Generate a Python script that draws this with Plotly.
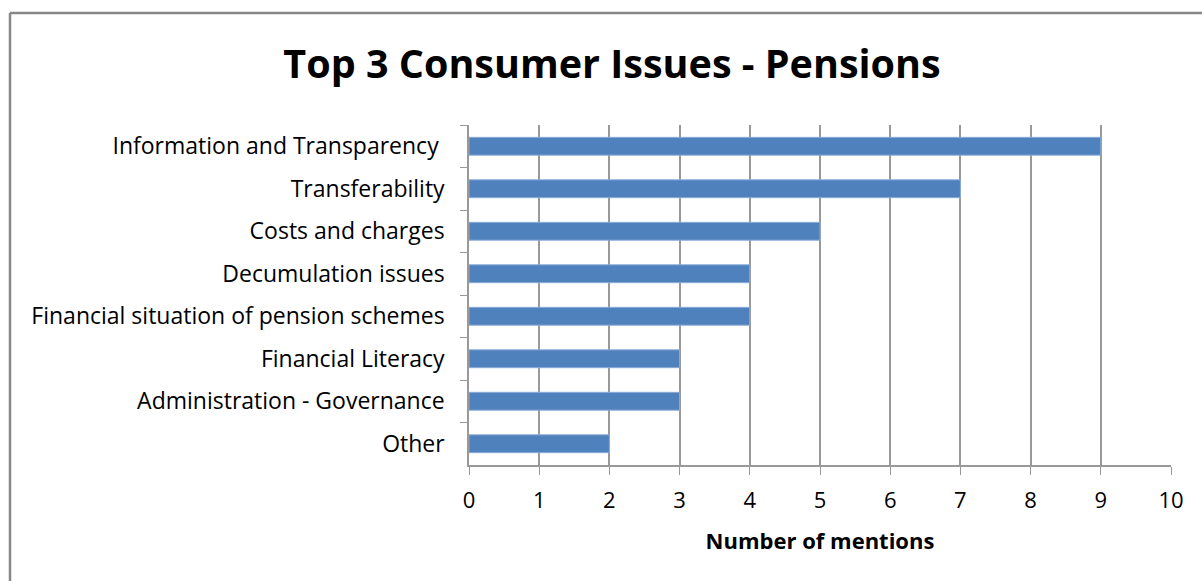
import plotly.graph_objects as go

# Survey results: consumer issues raised about pensions
issues = [
    "Information and Transparency ",
    "Transferability",
    "Costs and charges",
    "Decumulation issues",
    "Financial situation of pension schemes",
    "Financial Literacy",
    "Administration - Governance",
    "Other",
]
mentions = [9, 7, 5, 4, 4, 3, 3, 2]
x_ticks = list(range(0, 11))

W, H = 1202, 581
L, R, T, B = 469, 31, 125, 116
pw, ph = W - L - R, H - T - B

def px_to_paper(px, py):
    return (px - L) / pw, (H - B - py) / ph

fig = go.Figure(
    go.Bar(
        x=mentions,
        y=issues,
        orientation="h",
        width=0.42,
        marker=dict(color="#4F81BD", line=dict(color="#8AADD8", width=1)),
        hoverinfo="x+y",
    )
)

font_main = "'Open Sans', Lato, sans-serif"
axis_gray = "#999999"

fig.update_layout(
    width=W,
    height=H,
    margin=dict(l=L, r=R, t=T, b=B),
    paper_bgcolor="white",
    plot_bgcolor="white",
    showlegend=False,
    font=dict(family=font_main, color="#000000", size=22),
    title=dict(
        text="<b>Top 3 Consumer Issues - Pensions</b>",
        x=612 / W,
        xanchor="center",
        y=1 - 64 / H,
        yanchor="middle",
        font=dict(size=39.5, family=font_main, color="#000000"),
    ),
)

fig.update_xaxes(
    range=[0, 10],
    tickvals=x_ticks,
    ticks="outside",
    ticklen=8,
    tickcolor=axis_gray,
    showline=True,
    linecolor=axis_gray,
    linewidth=1.5,
    showgrid=True,
    gridcolor=axis_gray,
    gridwidth=1.5,
    zeroline=False,
    tickfont=dict(size=22),
    ticklabelstandoff=7,
    title=dict(text="<b>Number of mentions</b>", font=dict(size=22), standoff=20),
)

fig.update_yaxes(
    type="category",
    categoryorder="array",
    categoryarray=issues,
    autorange="reversed",
    tickson="boundaries",
    ticks="outside",
    ticklen=7,
    tickcolor=axis_gray,
    showline=True,
    linecolor=axis_gray,
    linewidth=1.5,
    showgrid=False,
    tickfont=dict(size=23),
    ticklabelstandoff=18,
)

# Chart-area frame (top and left edges)
x0, y0 = px_to_paper(10, 13)
x1, _ = px_to_paper(W + 5, 13)
_, y1 = px_to_paper(10, H + 5)
frame = dict(color="#878787", width=2.5)
fig.add_shape(type="line", xref="paper", yref="paper", x0=x0, y0=y0, x1=x1, y1=y0, line=frame)
fig.add_shape(type="line", xref="paper", yref="paper", x0=x0, y0=y0, x1=x0, y1=y1, line=frame)

fig.write_html("out.html")
